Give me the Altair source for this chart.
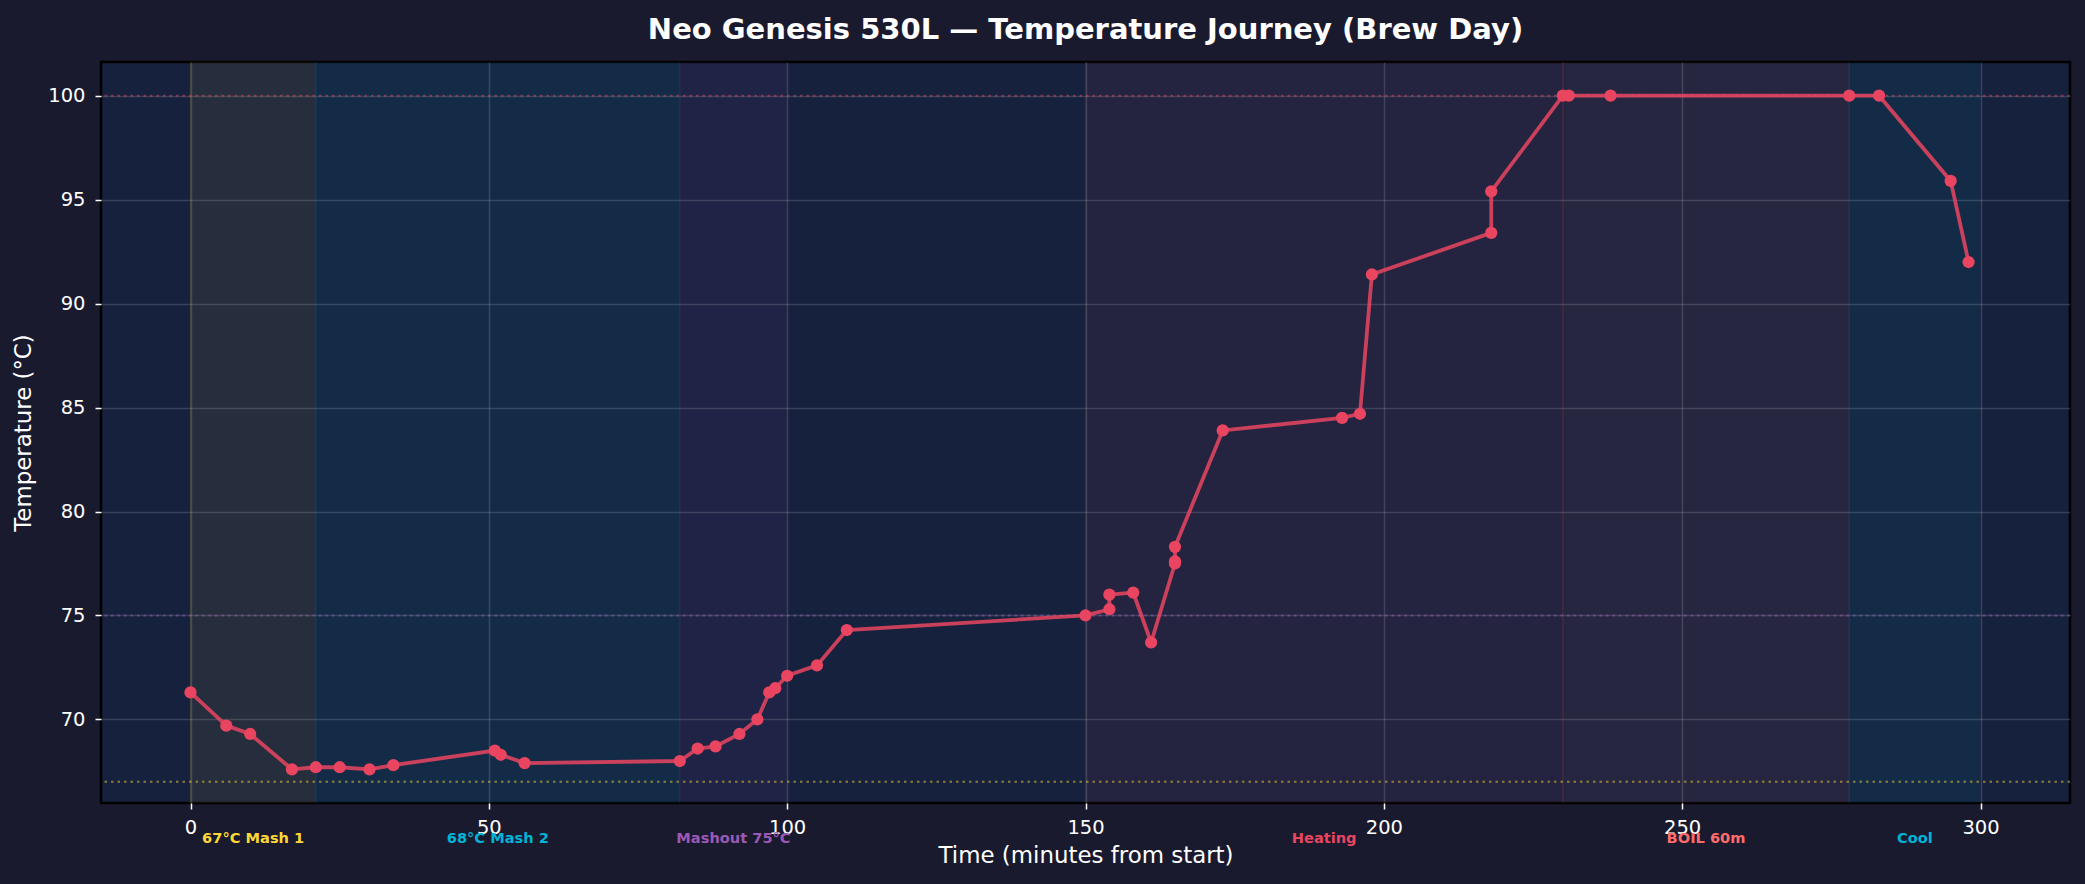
import altair as alt
import pandas as pd

# ---- data ----
times = [0, 6, 10, 17, 21, 25, 30, 34, 51, 52, 56, 82, 85, 88, 92, 95, 97, 98, 100,
         105, 110, 150, 154, 154, 158, 161, 165, 165, 165, 173, 193, 196, 198, 218,
         218, 230, 231, 238, 278, 283, 295, 298]
temps = [71.3, 69.7, 69.3, 67.6, 67.7, 67.7, 67.6, 67.8, 68.5, 68.3, 67.9, 68.0,
         68.6, 68.7, 69.3, 70.0, 71.3, 71.5, 72.1, 72.6, 74.3, 75.0, 75.3, 76.0,
         76.1, 73.7, 77.5, 77.6, 78.3, 83.9, 84.5, 84.7, 91.4, 93.4, 95.4, 100.0,
         100.0, 100.0, 100.0, 100.0, 95.9, 92.0]

phase_names = ["67°C Mash 1", "68°C Mash 2", "Mashout 75°C", "Heating", "BOIL 60m", "Cool"]
phase_starts = [0, 21, 82, 150, 230, 278]
phase_ends = [21, 82, 100, 230, 278, 300]
phase_colors = ["#fdd835", "#00b4d8", "#9b59b6", "#e94560", "#ff6b6b", "#00b4d8"]

ref_temps = [100, 75, 67]
ref_colors = ["#e94560", "#9b59b6", "#fdd835"]

x_ticks = [0, 50, 100, 150, 200, 250, 300]
y_ticks = [70, 75, 80, 85, 90, 95, 100]

title_text = "Neo Genesis 530L — Temperature Journey (Brew Day)"

# ---- tables ----
df = pd.DataFrame({"t": times, "temp": temps, "idx": list(range(len(times)))})
phases = pd.DataFrame({
    "name": phase_names,
    "start": phase_starts,
    "end": phase_ends,
    "color": phase_colors,
})
phases["mid"] = (phases["start"] + phases["end"]) / 2
refs = pd.DataFrame({"temp": ref_temps, "color": ref_colors})
title_df = pd.DataFrame({"txt": [title_text]})

W, H = 1969, 741
FONT = "DejaVu Sans"

x_scale = alt.Scale(domain=[-15, 315], nice=False, zero=False)
y_scale = alt.Scale(domain=[65.98, 101.62], nice=False, zero=False)

x_axis = alt.Axis(values=x_ticks, title="Time (minutes from start)", titleY=59,
                  titleBaseline="alphabetic", labelPadding=9, tickSize=6, format="d")
y_axis = alt.Axis(values=y_ticks, title="Temperature (°C)", titleX=-71, titleY=H / 2,
                  titleBaseline="alphabetic", titleAlign="center", labelPadding=10,
                  tickSize=6, format="d")


def X(field):
    return alt.X(field, scale=x_scale, axis=x_axis)


def Y(field):
    return alt.Y(field, scale=y_scale, axis=y_axis)


bands = alt.Chart(phases).mark_rect(opacity=0.07).encode(
    x=X("start:Q"), x2="end:Q",
    y=alt.value(0), y2=alt.value(H),
    color=alt.Color("color:N", scale=None),
)

edges = alt.Chart(phases).mark_rule(opacity=0.15, strokeWidth=1.2).encode(
    x=X("start:Q"),
    color=alt.Color("color:N", scale=None),
)

ref_lines = alt.Chart(refs).mark_rule(opacity=0.5, strokeWidth=2, strokeDash=[2.5, 4]).encode(
    y=Y("temp:Q"),
    color=alt.Color("color:N", scale=None),
)

line = alt.Chart(df).mark_line(color="#e94560", strokeWidth=3.8, opacity=0.85).encode(
    x=X("t:Q"), y=Y("temp:Q"), order="idx:Q",
)

points = alt.Chart(df).mark_circle(color="#e94560", size=150, opacity=1).encode(
    x=X("t:Q"), y=Y("temp:Q"),
)

labels = alt.Chart(phases).mark_text(
    font=FONT, fontSize=14.6, fontWeight="bold", baseline="alphabetic", align="center"
).encode(
    x=X("mid:Q"), y=alt.value(781),
    text="name:N",
    color=alt.Color("color:N", scale=None),
)

title = alt.Chart(title_df).mark_text(
    font=FONT, fontSize=29, fontWeight="bold", color="#ffffff",
    baseline="alphabetic", align="center"
).encode(
    x=alt.value(W / 2), y=alt.value(-23), text="txt:N",
)

chart = alt.layer(bands, edges, ref_lines, line, points, labels, title).properties(
    width=W, height=H,
    autosize="none",
    padding={"left": 101, "top": 62, "right": 15, "bottom": 81},
    background="#1a1a2e",
).configure_view(
    fill="#16213e", stroke="#000000", strokeWidth=2.5,
).configure_axis(
    labelFont=FONT, labelFontSize=19.5, labelColor="#ffffff",
    titleFont=FONT, titleFontSize=22.9, titleColor="#ffffff", titleFontWeight="normal",
    tickColor="#ffffff", tickWidth=1.5,
    gridColor="#ffffff", gridOpacity=0.15, gridWidth=1.5,
    domain=False,
)

chart.save("out.html", embed_options={"renderer": "svg", "actions": False})
